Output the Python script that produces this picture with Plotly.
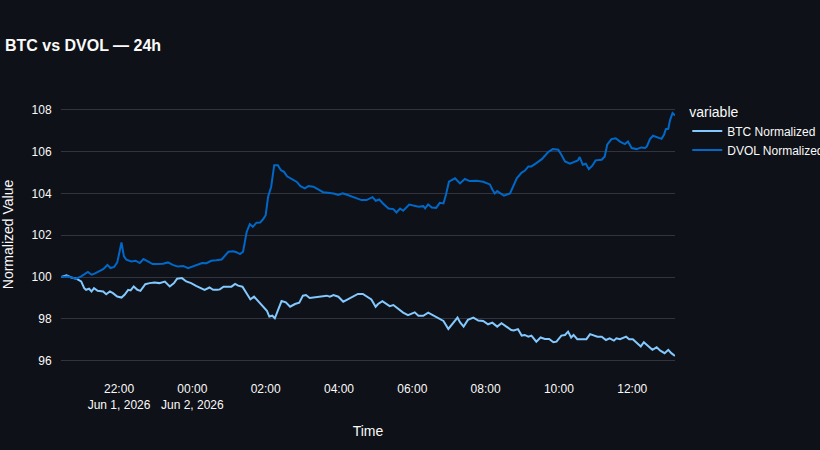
import pandas as pd
import plotly.graph_objects as go

# ---- data ----
dvol_time = ["20:25","20:36","20:50","20:58","21:09","21:15","21:20","21:28","21:34","21:41",
             "21:46","21:52","21:57","22:01","22:04","22:08","22:12","22:20","22:27","22:34",
             "22:40","22:47","22:55","23:04","23:12","23:20","23:28","23:36","23:45","23:53",
             "00:01","00:09","00:16","00:23","00:31","00:39","00:48","00:59","01:07","01:12",
             "01:18","01:23","01:29","01:34","01:39","01:45","01:51","01:56","02:00","02:04",
             "02:09","02:14","02:20","02:25","02:30","02:35","02:43","02:51","02:57","03:04",
             "03:10","03:18","03:26","03:34","03:42","03:51","03:59","04:06","04:12","04:21",
             "04:29","04:37","04:45","04:55","05:00","05:06","05:12","05:21","05:29","05:34",
             "05:40","05:45","05:55","06:01","06:10","06:18","06:21","06:26","06:32","06:39",
             "06:45","06:51","06:55","07:00","07:10","07:18","07:26","07:34","07:45","07:56",
             "08:07","08:11","08:15","08:19","08:23","08:30","08:40","08:45","08:51","08:59",
             "09:04","09:10","09:15","09:23","09:32","09:37","09:42","09:50","09:59","10:04",
             "10:10","10:18","10:26","10:31","10:34","10:39","10:44","10:49","10:55","11:00",
             "11:10","11:15","11:19","11:26","11:33","11:40","11:48","11:53","11:59","12:07",
             "12:15","12:21","12:24","12:29","12:34","12:42","12:48","12:52","12:55","12:59",
             "13:02","13:06","13:10"]
dvol_norm = [100.00,100.03,99.92,100.03,100.24,100.11,100.16,100.30,100.38,100.58,
             100.43,100.48,100.70,101.23,101.66,100.99,100.83,100.75,100.78,100.67,
             100.86,100.75,100.62,100.62,100.64,100.70,100.58,100.50,100.53,100.42,
             100.51,100.61,100.67,100.66,100.78,100.80,100.84,101.21,101.23,101.19,
             101.10,101.21,102.17,102.53,102.40,102.60,102.61,102.77,102.96,103.84,
             104.32,105.35,105.35,105.11,105.03,104.82,104.67,104.55,104.35,104.24,
             104.35,104.32,104.19,104.06,104.03,104.00,103.93,104.00,103.95,103.84,
             103.77,103.68,103.68,103.82,103.65,103.71,103.52,103.28,103.25,103.09,
             103.28,103.17,103.47,103.44,103.36,103.39,103.28,103.47,103.33,103.31,
             103.55,103.52,103.92,104.56,104.72,104.48,104.69,104.59,104.61,104.56,
             104.43,104.19,104.00,104.11,104.03,103.89,104.00,104.32,104.72,105.00,
             105.08,105.29,105.29,105.45,105.64,105.80,105.97,106.12,106.09,105.85,
             105.53,105.42,105.50,105.58,105.74,105.37,105.42,105.16,105.34,105.58,
             105.61,105.77,106.33,106.60,106.64,106.48,106.36,106.48,106.17,106.12,
             106.20,106.17,106.25,106.60,106.76,106.68,106.61,106.80,107.07,107.09,
             107.52,107.84,107.73]

btc_time = ["20:25","20:34","20:42","20:50","20:58","21:03","21:06","21:11","21:15","21:19",
            "21:25","21:34","21:39","21:45","21:50","21:57","22:04","22:09","22:15","22:19",
            "22:24","22:30","22:35","22:43","22:50","22:58","23:06","23:15","23:23","23:30",
            "23:35","23:43","23:50","23:58","00:06","00:15","00:20","00:28","00:34","00:41",
            "00:45","00:51","00:59","01:04","01:10","01:15","01:22","01:30","01:35","01:41",
            "01:48","01:56","02:02","02:06","02:11","02:15","02:21","02:26","02:33","02:40",
            "02:48","02:55","03:01","03:06","03:12","03:22","03:32","03:40","03:45","03:51",
            "03:59","04:07","04:12","04:18","04:24","04:31","04:39","04:45","04:53","05:00",
            "05:04","05:11","05:18","05:23","05:29","05:37","05:45","05:53","05:59","06:04",
            "06:10","06:18","06:26","06:34","06:42","06:51","06:59","07:07","07:14","07:18",
            "07:24","07:31","07:40","07:48","07:56","08:04","08:11","08:19","08:26","08:34",
            "08:42","08:46","08:53","08:59","09:04","09:10","09:15","09:23","09:30","09:37",
            "09:44","09:51","09:56","10:04","10:10","10:15","10:20","10:24","10:30","10:37",
            "10:45","10:51","10:56","11:03","11:10","11:17","11:23","11:30","11:34","11:40",
            "11:50","11:55","12:01","12:07","12:14","12:19","12:26","12:33","12:40","12:46",
            "12:53","12:59","13:04","13:10"]
btc_norm = [100.00,100.08,99.98,99.92,99.79,99.47,99.39,99.44,99.31,99.47,
            99.34,99.31,99.18,99.31,99.23,99.07,99.02,99.15,99.39,99.36,
            99.55,99.39,99.34,99.66,99.71,99.74,99.71,99.78,99.55,99.71,
            99.92,99.95,99.79,99.71,99.58,99.47,99.39,99.50,99.39,99.39,
            99.41,99.54,99.54,99.54,99.67,99.59,99.54,99.14,98.93,99.06,
            98.82,98.58,98.39,98.11,98.15,98.03,98.50,98.85,98.79,98.58,
            98.71,98.77,99.11,99.14,99.00,99.03,99.06,99.11,99.06,99.14,
            99.06,98.82,98.90,98.98,99.09,99.19,99.19,99.09,98.93,98.58,
            98.71,98.85,98.69,98.61,98.66,98.47,98.30,98.18,98.26,98.31,
            98.15,98.15,98.30,98.18,98.06,97.90,97.52,97.79,98.06,97.84,
            97.63,97.95,98.06,97.92,97.90,97.74,97.82,97.63,97.79,97.63,
            97.47,97.44,97.51,97.20,97.23,97.15,97.20,96.91,97.11,97.04,
            97.04,96.88,96.91,97.20,97.23,97.39,97.11,97.23,97.03,97.03,
            97.03,97.27,97.23,97.15,97.15,96.99,97.07,96.96,97.07,97.03,
            97.15,97.03,97.03,96.87,96.68,96.88,96.68,96.52,96.64,96.48,
            96.36,96.52,96.36,96.23]

series_names = ["BTC Normalized", "DVOL Normalized"]
series_colors = ["#83c9ff", "#0068c9"]


def to_dt(hhmm_list):
    out = []
    for s in hhmm_list:
        day = "2026-06-01" if int(s[:2]) >= 20 else "2026-06-02"
        out.append(pd.Timestamp(f"{day} {s}"))
    return out


BG = "#0e1117"
TXT = "#fafafa"
FONT = "Liberation Sans, Arial, Helvetica, sans-serif"

fig = go.Figure()
fig.add_trace(go.Scatter(x=to_dt(btc_time), y=btc_norm, mode="lines",
                         name=series_names[0],
                         line=dict(color=series_colors[0], width=2)))
fig.add_trace(go.Scatter(x=to_dt(dvol_time), y=dvol_norm, mode="lines",
                         name=series_names[1],
                         line=dict(color=series_colors[1], width=2)))

fig.update_layout(
    width=820, height=450,
    paper_bgcolor=BG, plot_bgcolor=BG,
    font=dict(family=FONT, color=TXT, size=12),
    title=dict(text="<b>BTC vs DVOL — 24h</b>", x=0.006, xref="container",
               xanchor="left", y=0.9, yref="container", yanchor="middle",
               font=dict(size=16, color=TXT, family=FONT)),
    margin=dict(l=61, r=145, t=101, b=82, autoexpand=False),
    legend=dict(title=dict(text="variable"), font=dict(size=12, color=TXT),
                bgcolor="rgba(0,0,0,0)", y=1.01),
    showlegend=True,
)
fig.update_xaxes(title=dict(text="Time", font=dict(size=14)), showgrid=False,
                 zeroline=False, showline=False, dtick=7200000,
                 ticks="outside", ticklen=10, tickcolor=BG,
                 tickfont=dict(size=12, color=TXT))
fig.update_yaxes(title=dict(text="Normalized Value", font=dict(size=14)),
                 showgrid=True, gridcolor="#31333f", zeroline=False,
                 showline=False, range=[95.65, 108.42], dtick=2,
                 ticks="outside", ticklen=6, tickcolor=BG,
                 tickfont=dict(size=12, color=TXT))

fig.write_html("out.html")
